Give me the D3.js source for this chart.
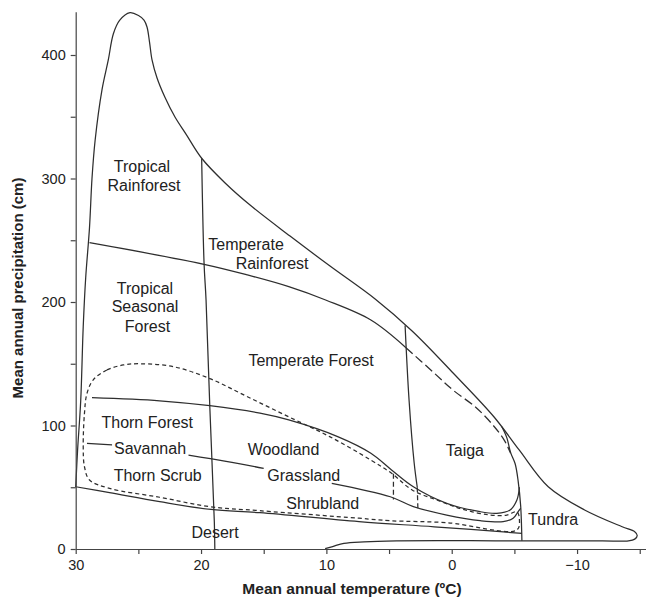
<!DOCTYPE html>
<html>
<head>
<meta charset="utf-8">
<script src="https://cdn.jsdelivr.net/npm/d3@7"></script>
<style>
  body { margin: 0; background: #fff; }
  svg text { font-family: "Liberation Sans", Arial, sans-serif; fill: #222; }
</style>
</head>
<body>
<div id="container"></div>
<script>
/* CONSTANTS AND GLOBALS */
const width = 646,
  height = 599;

/* DATA: [temperature ºC, precipitation cm] */
const outerBoundary = [
  [30, 50], [29.85, 80], [29.6, 120], [29.4, 180], [29.2, 220], [28.9, 260],
  [28.7, 300], [28.45, 331], [27.9, 372], [27.4, 396], [27.0, 417], [26.5, 428],
  [25.67, 434.3], [24.99, 432], [24.55, 428.3], [24.31, 422.7], [24.11, 410.5],
  [23.91, 396], [23.51, 381.4], [22.89, 366], [22.08, 349.8], [21.2, 336],
  [19.95, 316.4], [18.08, 296.4], [16.09, 278.5], [12.9, 253.4], [9.71, 229.1],
  [6.11, 202.4], [3.16, 176.5], [-0.11, 142.5], [-3.38, 106.9], [-5.38, 80.2],
  [-7.7, 50.4], [-10.6, 31.6], [-13.6, 18], [-14.6, 14], [-14.8, 11],
  [-14.6, 8], [-14.1, 6.6], [-12, 6.5], [-5.6, 6.6], [-1.5, 6.7], [4.4, 6.5],
  [7, 5.8], [8.6, 4.6], [9.5, 2], [10.1, 0.3]
];
const rainforestLine = [[28.9, 248], [19.76, 230.5], [16.3, 221.9], [13, 212.4], [10.06, 201.6], [6.45, 185.4], [3.65, 163]];
const rainforestDashed = [[3.65, 163], [1.52, 143.6], [-0.1, 128.7], [-2, 114], [-3.4, 99], [-4.2, 88], [-4.7, 77.5]];
const tropicalLine = [[19.95, 316.4], [19.76, 231.6], [19.6, 201.6], [19.3, 115], [18.94, 22], [18.9, 0]];
const taigaLine = [[3.72, 181], [3.4, 120], [3.0, 70], [2.75, 50]];
const taigaDashed = [[2.75, 50], [2.7, 33]];
const woodlandDashed = [[4.65, 61], [4.65, 40]];
const tundraLine = [[-4.0, 99], [-4.4, 90], [-4.7, 78], [-5.06, 69], [-5.3, 55], [-5.5, 35], [-5.6, 6.6]];
const thornForestLine = [
  [28.7, 122.5], [23.3, 120], [19.3, 116], [15.3, 110], [13, 104.5], [9.1, 91],
  [6.45, 77.5], [4.8, 64], [3.06, 50.4], [0.4, 37], [-2.27, 30.2], [-3.6, 28.9],
  [-4.66, 31.6], [-5.2, 39.7], [-5.4, 50]
];
const savannahLeft = [[29.1, 85.6], [27.1, 84.4]];
const savannahMid = [[21, 76], [18, 71], [15, 65.3]];
const grasslandLine = [
  [9.57, 53.2], [4.9, 42.3], [3.06, 34.3], [0.4, 27.5], [-2.27, 22.9],
  [-4.1, 22.1], [-4.9, 24.9], [-5.3, 30.2], [-5.5, 33]
];
const desertLine = [[30, 50.4], [27.3, 45.6], [23.3, 38.3], [19.2, 32], [15.3, 29.4], [7.4, 22.1], [1.4, 18], [-5.6, 12.7]];
const fireLoop = [
  [28.6, 137], [27.5, 145], [26.2, 149], [24.9, 150], [22.2, 147.6], [19.3, 138],
  [16.3, 123.3], [13, 107], [9.74, 91], [6.45, 72], [4.8, 61.3], [3.16, 47.8],
  [1.2, 39.7], [-0.9, 32.1], [-3.07, 27.5], [-4.4, 27.5], [-5.2, 30.2],
  [-5.4, 24], [-5.2, 15.4], [0.4, 21.3], [4.9, 22.9], [7.4, 24.9], [15.3, 31],
  [19.3, 34.3], [23.3, 41.9], [27.3, 49.1], [28.9, 55.9], [29.3, 66.6],
  [29.4, 82.8], [29.3, 110], [29.1, 126]
];

const labels = [
  ["Tropical", 24.71, 309.6], ["Rainforest", 24.55, 294.7],
  ["Temperate", 16.41, 247.0], ["Rainforest", 14.33, 231.6],
  ["Tropical", 24.47, 211.3], ["Seasonal", 24.47, 196.2], ["Forest", 24.27, 180.6],
  ["Temperate Forest", 11.22, 152.5],
  ["Thorn Forest", 24.29, 102.6], ["Savannah", 24.07, 81.5], ["Thorn Scrub", 23.46, 59.9],
  ["Woodland", 13.42, 81.0], ["Grassland", 11.8, 59.4], ["Shrubland", 10.29, 37.0],
  ["Desert", 18.88, 13.5], ["Taiga", -1.05, 80.2], ["Tundra", -8.09, 24.3]
];

const xTicks = [30, 25, 20, 15, 10, 5, 0, -5, -10, -15];
const xTickLabels = [30, 20, 10, 0, -10];
const yTicks = [0, 50, 100, 150, 200, 250, 300, 350, 400];
const yTickLabels = [0, 100, 200, 300, 400];

/* SCALES */
const xScale = d3.scaleLinear().domain([30, -15.5]).range([75.7, 646]);
const yScale = d3.scaleLinear().domain([0, 435]).range([549, 549 - 435 * 1.235]);

const line = d3.line()
  .x(d => xScale(d[0]))
  .y(d => yScale(d[1]))
  .curve(d3.curveCatmullRom.alpha(0.5));

const closedLine = d3.line()
  .x(d => xScale(d[0]))
  .y(d => yScale(d[1]))
  .curve(d3.curveCatmullRomClosed.alpha(0.5));

/* DRAW */
const svg = d3.select("#container")
  .append("svg")
  .attr("width", width)
  .attr("height", height);

const stroke = "#2e2e2e";

function drawPath(points, dash, gen) {
  svg.append("path")
    .attr("d", (gen || line)(points))
    .attr("fill", "none")
    .attr("stroke", stroke)
    .attr("stroke-width", 1.25)
    .attr("stroke-dasharray", dash || null);
}

drawPath(outerBoundary);
drawPath(rainforestLine);
drawPath(rainforestDashed, "9,4");
drawPath(tropicalLine);
drawPath(taigaLine);
drawPath(taigaDashed, "5,3");
drawPath(woodlandDashed, "5,3");
drawPath(tundraLine);
drawPath(thornForestLine);
drawPath(savannahLeft);
drawPath(savannahMid);
drawPath(grasslandLine);
drawPath(desertLine);
drawPath(fireLoop, "4,3", closedLine);

// axes
const xAxis = d3.axisBottom(xScale)
  .tickValues(xTicks)
  .tickSize(5)
  .tickSizeOuter(0)
  .tickPadding(6)
  .tickFormat(d => xTickLabels.includes(d) ? d3.format("")(d).replace("-", "\u2013") : "");

const yAxis = d3.axisLeft(yScale)
  .tickValues(yTicks)
  .tickSize(5)
  .tickSizeOuter(0)
  .tickPadding(5)
  .tickFormat(d => yTickLabels.includes(d) ? d : "");

const gx = svg.append("g")
  .attr("transform", `translate(0, ${yScale(0)})`)
  .call(xAxis);

const gy = svg.append("g")
  .attr("transform", `translate(${xScale(30)}, 0)`)
  .call(yAxis);

[gx, gy].forEach(g => {
  g.selectAll("path, line").attr("stroke", "#444").attr("stroke-width", 1.2);
  g.selectAll("text").style("font-size", "14.5px").attr("fill", "#222");
});

// region labels
svg.selectAll("text.region")
  .data(labels)
  .join("text")
  .attr("class", "region")
  .attr("x", d => xScale(d[1]))
  .attr("y", d => yScale(d[2]))
  .attr("dy", "0.35em")
  .attr("text-anchor", "middle")
  .style("font-size", "16px")
  .text(d => d[0]);

// axis titles
svg.append("text")
  .attr("x", 352)
  .attr("y", 594)
  .attr("text-anchor", "middle")
  .style("font-size", "15.5px")
  .style("font-weight", "bold")
  .text("Mean annual temperature (ºC)");

svg.append("text")
  .attr("transform", "translate(23, 288) rotate(-90)")
  .attr("text-anchor", "middle")
  .style("font-size", "15px")
  .style("font-weight", "bold")
  .text("Mean annual precipitation (cm)");
</script>
</body>
</html>
